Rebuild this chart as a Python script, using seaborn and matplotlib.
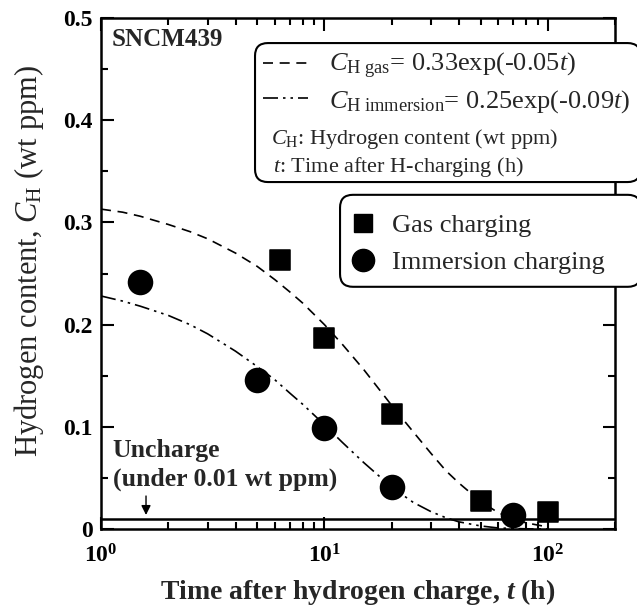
import matplotlib
matplotlib.use("Agg")
import matplotlib.pyplot as plt
import seaborn as sns
from matplotlib.lines import Line2D
from matplotlib.patches import FancyBboxPatch
from matplotlib.ticker import MultipleLocator, LogLocator, NullFormatter

# measured points
gas_t = [6.3, 10, 20, 50, 100]
gas_c = [0.263, 0.187, 0.113, 0.027, 0.017]
imm_t = [1.5, 5, 10, 20, 70]
imm_c = [0.242, 0.146, 0.099, 0.041, 0.014]

# fitted curves
fit_t = [1, 1.25, 1.5, 2, 2.5, 3, 4, 5, 6, 7, 8, 10, 12, 15, 20, 25, 30, 35, 40,
         50, 60, 70, 80, 100]
fit_gas = [0.313, 0.310, 0.306, 0.298, 0.291, 0.284, 0.270, 0.257, 0.244, 0.232, 0.221,
           0.200, 0.181, 0.156, 0.121, 0.095, 0.074, 0.057, 0.045, 0.027, 0.016, 0.010,
           0.006, 0.002]
fit_imm = [0.228, 0.223, 0.218, 0.209, 0.200, 0.191, 0.174, 0.159, 0.146, 0.133, 0.122,
           0.102, 0.085, 0.065, 0.041, 0.026, 0.017, 0.011, 0.007, 0.003, 0.001, 0.0005,
           0.0002, 0.0]

uncharge_level = 0.01
uncharge_arrow_t = 1.59

xticks = [1, 10, 100]
xtick_labels = [r'$\mathbf{10^{0}}$', r'$\mathbf{10^{1}}$', r'$\mathbf{10^{2}}$']
yticks = [0, 0.1, 0.2, 0.3, 0.4, 0.5]
ytick_labels = ['0', '0.1', '0.2', '0.3', '0.4', '0.5']

sns.set_style("ticks")
plt.rcParams['font.family'] = ['Liberation Serif', 'DejaVu Serif']
plt.rcParams['mathtext.fontset'] = 'custom'
plt.rcParams['mathtext.rm'] = 'Liberation Serif'
plt.rcParams['mathtext.it'] = 'Liberation Serif:italic'
plt.rcParams['mathtext.bf'] = 'Liberation Serif:bold'
plt.rcParams['mathtext.bfit'] = 'Liberation Serif:bold:italic'

fig, ax = plt.subplots(figsize=(6.37, 6.11), dpi=100)
fig.subplots_adjust(left=0.1586, right=0.9655, bottom=0.1342, top=0.9705)

gas_ls = (0, (6, 4))
imm_ls = (0, (9, 3, 1.5, 3, 1.5, 3))

sns.lineplot(x=fit_t, y=fit_gas, ax=ax, color='k', lw=1.2, linestyle=gas_ls,
             estimator=None, sort=False)
sns.lineplot(x=fit_t, y=fit_imm, ax=ax, color='k', lw=1.2, linestyle=imm_ls,
             estimator=None, sort=False)
ax.axhline(uncharge_level, color='k', lw=1.8, zorder=2)

sns.scatterplot(x=gas_t, y=gas_c, ax=ax, marker='s', s=200, color='k',
                edgecolor='k', zorder=4)
sns.scatterplot(x=imm_t, y=imm_c, ax=ax, marker='o', s=290, color='k',
                edgecolor='k', zorder=4)

ax.annotate('', xy=(uncharge_arrow_t, uncharge_level + 0.001),
            xytext=(uncharge_arrow_t, 0.035),
            arrowprops=dict(arrowstyle='-|>', color='k', lw=1, mutation_scale=14))

ax.set_xscale('log')
ax.set_xlim(1, 200)
ax.set_ylim(0, 0.5)
ax.set_xticks(xticks, labels=xtick_labels, fontsize=17)
ax.xaxis.set_minor_locator(LogLocator(base=10, subs=range(2, 10)))
ax.xaxis.set_minor_formatter(NullFormatter())
ax.set_yticks(yticks, labels=ytick_labels, fontsize=17, fontweight='bold')
ax.yaxis.set_minor_locator(MultipleLocator(0.05))
ax.tick_params(which='both', direction='in', top=True, right=True, width=1.5, colors='k')
ax.tick_params(which='major', length=9)
ax.tick_params(which='minor', length=5)
ax.tick_params(axis='x', which='major', pad=11)
ax.tick_params(axis='y', which='major', pad=6)
for sp in ax.spines.values():
    sp.set_linewidth(1.8)
    sp.set_color('k')

ax.set_xlabel(r'Time after hydrogen charge, $\mathbfit{t}$ (h)', fontsize=20,
              fontweight='bold', labelpad=7)
ax.set_ylabel(r'Hydrogen content, $C_{\mathrm{H}}$ (wt ppm)', fontsize=22)
ax.yaxis.set_label_coords(-0.107, 0.525)

ax.text(0.021, 0.957, 'SNCM439', transform=ax.transAxes, fontsize=18,
        fontweight='bold', va='center', ha='left')
ax.text(0.023, 0.125, 'Uncharge\n(under 0.01 wt ppm)', transform=ax.transAxes,
        fontsize=18.5, fontweight='bold', va='center', ha='left', linespacing=1.3)

# boxes
box1 = FancyBboxPatch((0.2996, 0.679), 0.75, 0.272, boxstyle="round,pad=0,rounding_size=0.025",
                      transform=ax.transAxes, clip_on=False, fc='white', ec='k', lw=1.5, zorder=5)
box2 = FancyBboxPatch((0.465, 0.474), 0.585, 0.18, boxstyle="round,pad=0,rounding_size=0.025",
                      transform=ax.transAxes, clip_on=False, fc='white', ec='k', lw=1.5, zorder=5)
ax.add_patch(box1)
ax.add_patch(box2)

fit_handles = [Line2D([], [], color='k', lw=1.2, linestyle=gas_ls),
               Line2D([], [], color='k', lw=1.2, linestyle=imm_ls)]
fit_labels = [r'$C_{\mathrm{H\ gas}}$= 0.33exp(-0.05$t$)',
              r'$C_{\mathrm{H\ immersion}}$= 0.25exp(-0.09$t$)']
leg1 = ax.legend(fit_handles, fit_labels, loc='upper left', bbox_to_anchor=(0.315, 0.935),
                 frameon=False, fontsize=19, handlelength=1.7, handletextpad=0.8,
                 borderpad=0, borderaxespad=0, labelspacing=0.25)
leg1.set_zorder(6)
ax.add_artist(leg1)

ax.text(0.33, 0.763, r'$C_{\mathrm{H}}$: Hydrogen content (wt ppm)', transform=ax.transAxes,
        fontsize=16, va='center', ha='left', zorder=6)
ax.text(0.335, 0.708, r'$t$: Time after H-charging (h)', transform=ax.transAxes,
        fontsize=16, va='center', ha='left', zorder=6)

pt_handles = [Line2D([], [], marker='s', ls='none', color='k', markersize=13),
              Line2D([], [], marker='o', ls='none', color='k', markersize=16)]
leg2 = ax.legend(pt_handles, ['Gas charging', 'Immersion charging'], loc='upper left',
                 bbox_to_anchor=(0.484, 0.617), frameon=False, fontsize=19,
                 handlelength=1.0, handletextpad=0.6, borderpad=0, borderaxespad=0,
                 labelspacing=0.5)
leg2.set_zorder(6)

fig.savefig('out.png', dpi=100)
